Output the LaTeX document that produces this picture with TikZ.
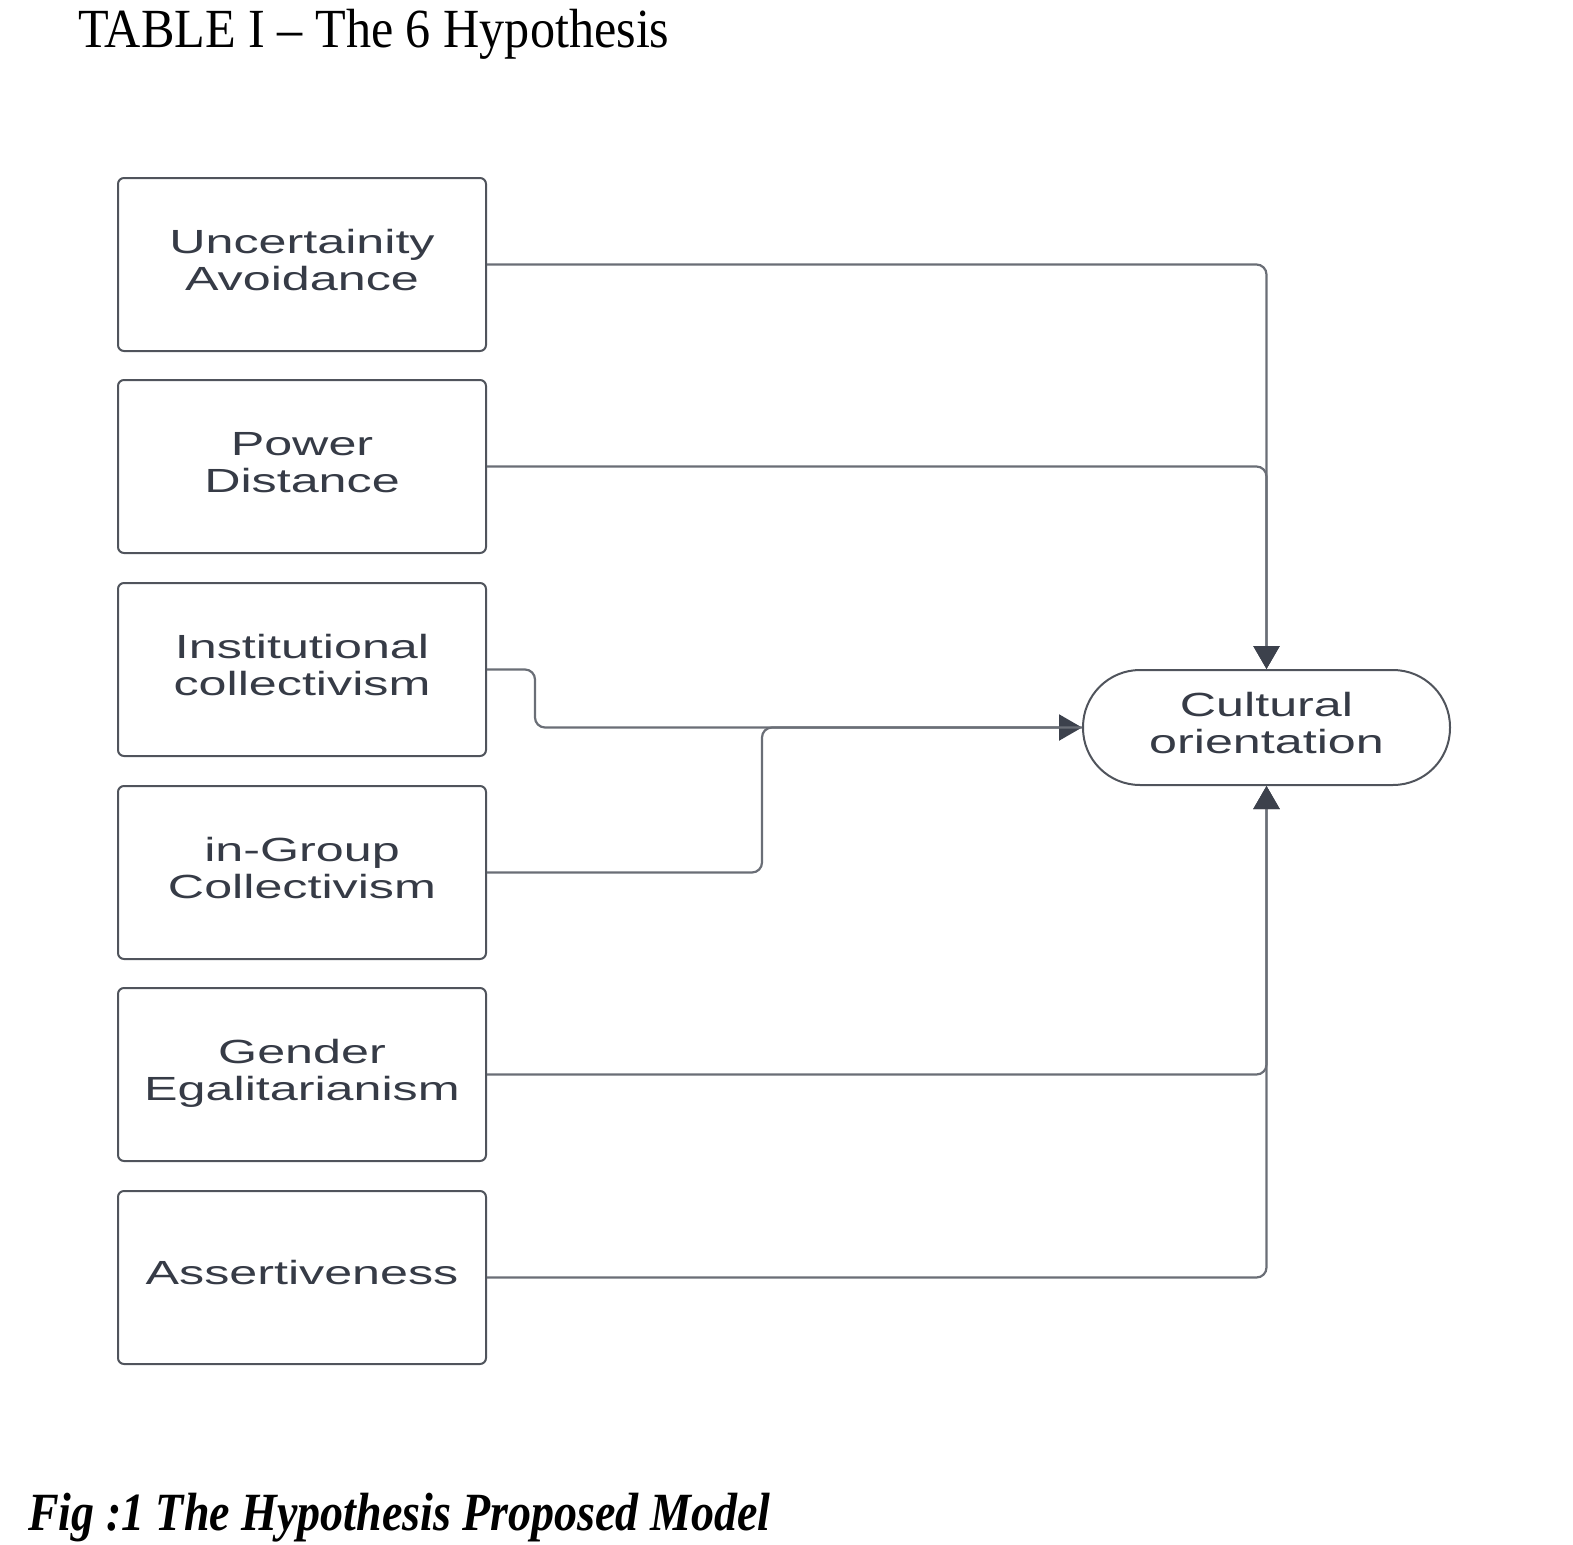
\documentclass[tikz,border=0pt]{standalone}
\usepackage{fontspec}
\setmainfont{Liberation Serif}
\newfontfamily\boxfont{Liberation Sans}
\usetikzlibrary{arrows.meta}
\definecolor{boxline}{HTML}{50545C}
\definecolor{connline}{HTML}{6A6E76}
\definecolor{tipcol}{HTML}{3C414C}
\definecolor{txtcol}{HTML}{363B46}
\newcommand{\blabel}[1]{\scalebox{1.5}[1]{\begin{tabular}{@{}c@{}}#1\end{tabular}}}
\begin{document}
\begin{tikzpicture}[x=1pt,y=-1pt,
  factor/.style={draw=boxline, line width=2pt, rounded corners=6pt,
    minimum width=368pt, minimum height=173pt, inner sep=0pt,
    font=\boxfont\fontsize{33.5}{37}\selectfont, text=txtcol},
  outcome/.style={draw=boxline, line width=2pt, rounded corners=57pt,
    minimum width=367pt, minimum height=115pt, inner sep=0pt,
    font=\boxfont\fontsize{33.5}{37}\selectfont, text=txtcol},
  conn/.style={draw=connline, line width=2.2pt, rounded corners=10pt},
  tip/.style={-{Triangle[length=23pt,width=26pt,color=tipcol]}}]
\useasboundingbox (0,0) rectangle (1573,1544);
\node[anchor=base west, inner sep=0pt, font=\fontsize{50.2}{55}\selectfont] (title) at (78,48)
  {\scalebox{1}[1.1]{TABLE I – The 6 Hypothesis}};
\node[factor] (b1) at (302,264.5) {\blabel{Uncertainity\\Avoidance}};
\node[factor] (b2) at (302,466.5) {\blabel{Power\\Distance}};
\node[factor] (b3) at (302,669.5) {\blabel{Institutional\\collectivism}};
\node[factor] (b4) at (302,872.5) {\blabel{in-Group\\Collectivism}};
\node[factor] (b5) at (302,1074.5) {\blabel{Gender\\Egalitarianism}};
\node[factor] (b6) at (302,1277.5) {\blabel{Assertiveness}};
\node[outcome] (co) at (1266.5,727.5) {\blabel{Cultural\\orientation}};
\coordinate (m3) at (535,727.5);
\coordinate (m4) at (762,727.5);
\draw[conn,tip] (b1.east) -| (co.north);
\draw[conn,tip] (b2.east) -| (co.north);
\draw[conn,tip] (b3.east) -| (m3) -- (co.west);
\draw[conn] (b4.east) -| (m4) -- (co.west);
\draw[conn,tip] (b5.east) -| (co.south);
\draw[conn,tip] (b6.east) -| (co.south);
\node[anchor=base west, inner sep=0pt, font=\fontsize{46}{50}\selectfont\bfseries\itshape] (cap) at (28,1530)
  {\scalebox{1}[1.17]{Fig :1 The Hypothesis Proposed Model}};
\end{tikzpicture}
\end{document}
